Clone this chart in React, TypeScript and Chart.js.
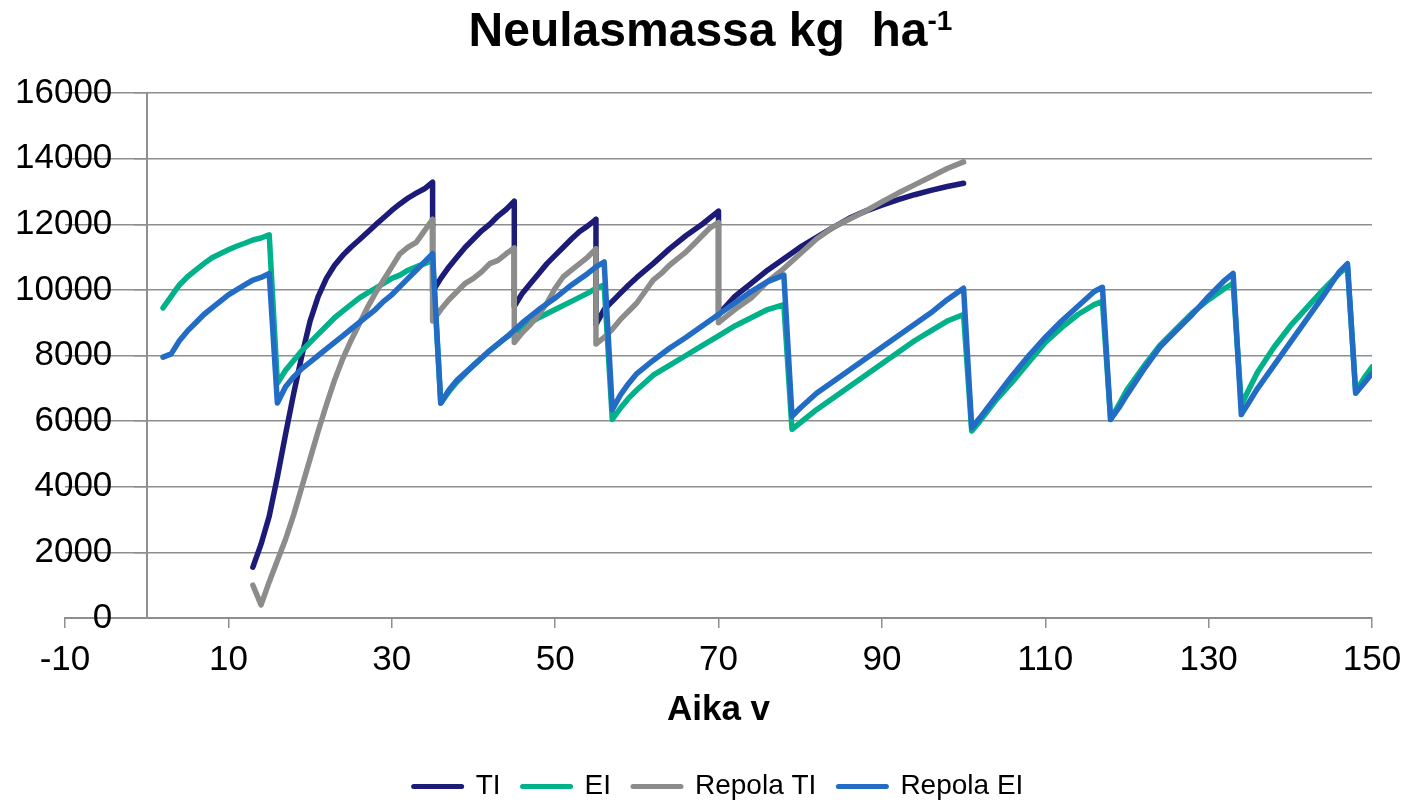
import React, { useEffect, useRef } from 'react';
import { Chart, registerables } from 'chart.js';

Chart.register(...registerables);

const FONT = "'Liberation Sans', Arial, Helvetica, sans-serif";

const chartTitle = 'Neulasmassa kg  ha';
const chartTitleSup = '-1';
const xTitle = 'Aika v';
const seriesNames = ['TI', 'EI', 'Repola TI', 'Repola EI'];
const seriesColors = ['#1C1C78', '#00B18A', '#8C8C8A', '#236CC6'];

const xTickValues = [-10, 10, 30, 50, 70, 90, 110, 130, 150];
const xMin = -10;
const xMax = 150;
const yMin = 0;
const yMax = 16000;
const yStep = 2000;

const tiPoints: [number, number][] = [
  [13, 1550], [14, 2250], [15, 3100], [16, 4300], [17, 5600], [18, 6850], [19, 8000], [20, 9050],
  [21, 9800], [22, 10350], [23, 10750], [24, 11050], [25, 11300], [26, 11520], [27, 11750], [28, 11980],
  [29, 12200], [30, 12420], [31, 12620], [32, 12800], [33, 12950], [34, 13080], [35, 13280], [35, 9950],
  [36, 10350], [37, 10700], [38, 11000], [39, 11300], [40, 11550], [41, 11800], [42, 12000], [43, 12250],
  [44, 12450], [45, 12700], [45, 9500], [46, 9900], [47, 10200], [48, 10500], [49, 10800], [50, 11050],
  [51, 11300], [52, 11550], [53, 11780], [54, 11950], [55, 12150], [55, 8950], [56, 9400], [57, 9650],
  [58, 9900], [59, 10150], [60, 10380], [62, 10800], [64, 11250], [66, 11650], [68, 12000], [69, 12200],
  [70, 12400], [70, 9250], [72, 9800], [74, 10200], [76, 10600], [78, 10950], [80, 11300], [82, 11600],
  [84, 11900], [86, 12180], [88, 12400], [90, 12580], [92, 12750], [94, 12900], [96, 13030], [98, 13150],
  [100, 13250],
];

const eiPoints: [number, number][] = [
  [2, 9450], [3, 9800], [4, 10150], [5, 10400], [6, 10600], [7, 10800], [8, 10980], [9, 11100],
  [10, 11220], [11, 11330], [12, 11420], [13, 11520], [14, 11580], [15, 11680], [16, 7150], [17, 7550],
  [18, 7850], [19, 8150], [20, 8400], [21, 8650], [22, 8900], [23, 9150], [24, 9350], [25, 9550],
  [26, 9750], [27, 9900], [28, 10050], [29, 10200], [30, 10350], [31, 10450], [32, 10600], [33, 10700],
  [34, 10800], [35, 10900], [36, 6550], [37, 6900], [38, 7200], [40, 7700], [42, 8150], [44, 8550],
  [46, 8850], [48, 9150], [50, 9400], [52, 9650], [54, 9900], [55, 10050], [56, 10150], [57, 6050],
  [58, 6400], [59, 6700], [60, 6950], [62, 7400], [64, 7700], [66, 8000], [68, 8300], [70, 8600],
  [72, 8900], [74, 9150], [76, 9400], [78, 9550], [79, 5750], [80, 5950], [82, 6350], [84, 6700],
  [86, 7050], [88, 7400], [90, 7750], [92, 8100], [94, 8450], [96, 8750], [98, 9050], [100, 9250],
  [101, 5700], [102, 6000], [104, 6650], [106, 7200], [108, 7800], [110, 8400], [112, 8850], [114, 9250],
  [116, 9550], [117, 9650], [118, 6050], [119, 6500], [120, 6950], [122, 7650], [124, 8300], [126, 8800],
  [128, 9300], [130, 9700], [132, 10050], [133, 10200], [134, 6500], [135, 7000], [136, 7500], [138, 8250],
  [140, 8900], [142, 9450], [144, 10000], [146, 10500], [147, 10700], [148, 6900], [149, 7300], [150, 7650],
];

const repolaTiPoints: [number, number][] = [
  [13, 1000], [14, 400], [15, 1100], [16, 1750], [17, 2400], [18, 3150], [19, 4000], [20, 4850],
  [21, 5700], [22, 6500], [23, 7250], [24, 7900], [25, 8450], [26, 8950], [27, 9450], [28, 9900],
  [29, 10300], [30, 10700], [31, 11100], [32, 11300], [33, 11450], [34, 11800], [35, 12150], [35, 9050],
  [36, 9400], [37, 9700], [38, 9950], [39, 10200], [40, 10350], [41, 10550], [42, 10800], [43, 10900],
  [44, 11100], [45, 11280], [45, 8400], [46, 8700], [47, 8950], [48, 9250], [49, 9600], [50, 10050],
  [51, 10400], [52, 10600], [53, 10800], [54, 11000], [55, 11250], [55, 8350], [56, 8550], [57, 8800],
  [58, 9100], [59, 9350], [60, 9600], [61, 9950], [62, 10300], [63, 10500], [64, 10750], [65, 10950],
  [66, 11150], [67, 11400], [68, 11650], [69, 11900], [70, 12050], [70, 9000], [71, 9200], [72, 9400],
  [74, 9750], [76, 10250], [78, 10650], [80, 11100], [82, 11550], [84, 11900], [86, 12150], [88, 12400],
  [90, 12680], [92, 12950], [94, 13200], [96, 13450], [98, 13700], [100, 13900],
];

const repolaEiPoints: [number, number][] = [
  [2, 7950], [3, 8050], [4, 8450], [5, 8750], [6, 9000], [7, 9250], [8, 9450], [9, 9650],
  [10, 9850], [11, 10000], [12, 10150], [13, 10300], [14, 10380], [15, 10500], [16, 6550], [17, 7050],
  [18, 7350], [19, 7600], [20, 7800], [21, 8000], [22, 8200], [23, 8400], [24, 8600], [25, 8800],
  [26, 9000], [27, 9200], [28, 9400], [29, 9650], [30, 9850], [31, 10100], [32, 10350], [33, 10600],
  [34, 10850], [35, 11100], [36, 6550], [37, 6950], [38, 7250], [40, 7700], [42, 8150], [44, 8550],
  [46, 9000], [48, 9400], [50, 9750], [52, 10150], [54, 10500], [55, 10700], [56, 10850], [57, 6350],
  [58, 6800], [59, 7150], [60, 7450], [62, 7850], [64, 8220], [66, 8550], [68, 8900], [70, 9250],
  [72, 9600], [74, 9950], [76, 10250], [78, 10450], [79, 6150], [80, 6400], [82, 6850], [84, 7200],
  [86, 7550], [88, 7900], [90, 8250], [92, 8600], [94, 8950], [96, 9300], [98, 9700], [100, 10050],
  [101, 5800], [102, 6100], [104, 6750], [106, 7400], [108, 8000], [110, 8550], [112, 9050], [114, 9500],
  [116, 9950], [117, 10080], [118, 6050], [119, 6400], [120, 6800], [122, 7550], [124, 8250], [126, 8750],
  [128, 9250], [130, 9800], [132, 10300], [133, 10500], [134, 6200], [135, 6600], [136, 7000], [138, 7700],
  [140, 8400], [142, 9100], [144, 9800], [146, 10550], [147, 10800], [148, 6850], [149, 7150], [150, 7450],
];

const seriesData = [tiPoints, eiPoints, repolaTiPoints, repolaEiPoints];

export default function App() {
  const ref = useRef<HTMLCanvasElement>(null);

  useEffect(() => {
    if (!ref.current) return;
    const gray = '#8E8E8E';
    const datasets = seriesNames.map((name, i) => ({
      label: name,
      data: seriesData[i].map(([x, y]) => ({ x, y })),
      showLine: true,
      borderColor: seriesColors[i],
      backgroundColor: seriesColors[i],
      borderWidth: 5.5,
      borderCapStyle: 'round' as const,
      borderJoinStyle: 'round' as const,
      pointRadius: 0,
      pointHoverRadius: 0,
      pointBorderWidth: 5,
      tension: 0,
      order: seriesNames.length - 1 - i,
    }));

    const chart = new Chart(ref.current, {
      type: 'scatter',
      data: { datasets },
      options: {
        responsive: false,
        animation: false,
        events: [],
        layout: { padding: { top: 93, left: 0, right: 49, bottom: 0 } },
        scales: {
          x: {
            type: 'linear',
            min: xMin,
            max: xMax,
            afterBuildTicks: (s: any) => {
              s.ticks = xTickValues.map((v) => ({ value: v }));
            },
            afterFit: (s: any) => {
              s.height = 132.5;
            },
            grid: { drawOnChartArea: false, drawTicks: true, tickLength: 10, color: gray, lineWidth: 1.5 },
            border: { display: true, color: gray, width: 2 },
            ticks: {
              autoSkip: false,
              maxRotation: 0,
              padding: 11.5,
              color: '#000',
              font: { family: FONT, size: 35 },
              callback: (v: any) => String(v),
            },
            title: {
              display: true,
              text: xTitle,
              color: '#000',
              font: { family: FONT, size: 35, weight: 'bold' },
              padding: { top: 0, bottom: 19 },
            },
          },
          y: {
            type: 'linear',
            position: 'left',
            min: yMin,
            max: yMax,
            afterFit: (s: any) => {
              s.width = 65;
            },
            grid: { color: gray, lineWidth: 1.5, drawTicks: false },
            border: { display: false },
            ticks: {
              stepSize: yStep,
              mirror: true,
              crossAlign: 'far',
              padding: -50,
              color: '#000',
              font: { family: FONT, size: 35 },
              callback: (v: any) => String(v),
            },
          },
          y2: {
            type: 'linear',
            axis: 'y',
            position: { x: 0 },
            min: yMin,
            max: yMax,
            afterFit: (s: any) => {
              s.width = 0;
            },
            grid: { drawOnChartArea: false, drawTicks: true, tickLength: 12, color: gray, lineWidth: 1.5 },
            border: { display: true, color: gray, width: 2 },
            ticks: { display: false, stepSize: yStep },
          },
        } as any,
        plugins: {
          title: { display: false },
          tooltip: { enabled: false },
          legend: {
            display: true,
            position: 'bottom',
            fullSize: false,
            maxHeight: 51.5,
            labels: {
              usePointStyle: true,
              pointStyle: 'line',
              pointStyleWidth: 48,
              padding: 22,
              color: '#000',
              font: { family: FONT, size: 28 },
              sort: (a: any, b: any) => a.datasetIndex - b.datasetIndex,
              generateLabels: (c: any) => {
                const items = Chart.defaults.plugins.legend.labels.generateLabels(c);
                return items.map((it: any) => ({
                  ...it,
                  lineWidth: 5,
                  lineCap: 'round',
                  strokeStyle: seriesColors[it.datasetIndex],
                  fillStyle: seriesColors[it.datasetIndex],
                }));
              },
            },
          } as any,
        },
      },
    });
    return () => chart.destroy();
  }, []);

  return (
    <div style={{ position: 'absolute', left: 0, top: 0, width: 1421, height: 802, background: '#fff' }}>
      <canvas ref={ref} width={1421} height={802} style={{ display: 'block', width: 1421, height: 802 }} />
      <div
        style={{
          position: 'absolute',
          top: 6,
          left: 0,
          width: 1421,
          textAlign: 'center',
          fontFamily: FONT,
          fontWeight: 'bold',
          fontSize: 48,
          lineHeight: '48px',
          whiteSpace: 'pre',
          color: '#000',
        }}
      >
        {chartTitle}
        <span style={{ fontSize: 28, position: 'relative', top: -16 }}>{chartTitleSup}</span>
      </div>
    </div>
  );
}
